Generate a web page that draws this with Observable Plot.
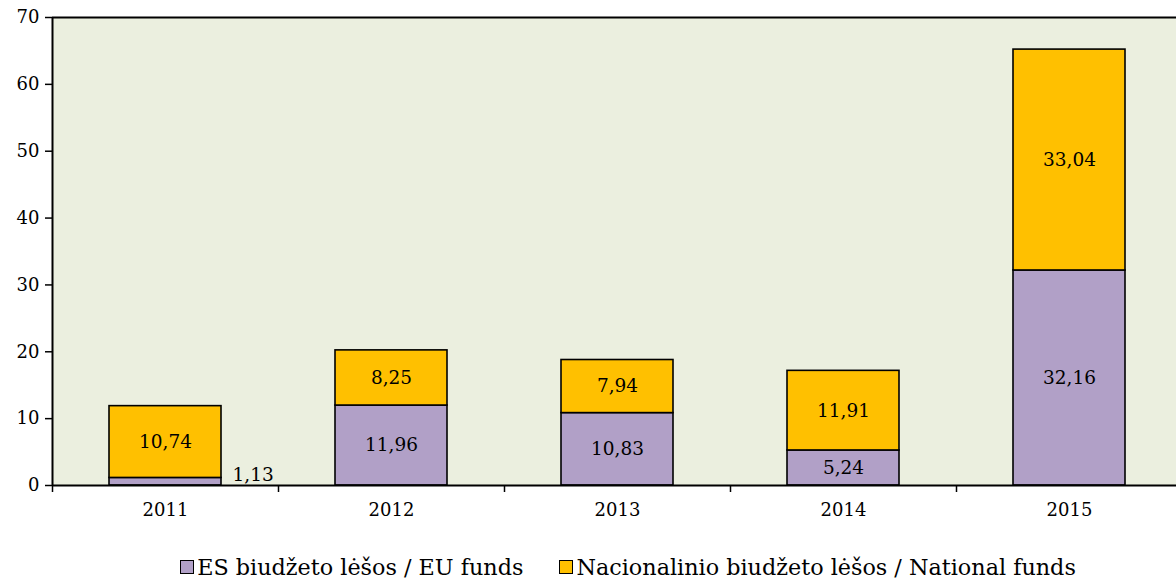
<!DOCTYPE html>
<html>
<head>
<meta charset="utf-8">
<script src="https://cdn.jsdelivr.net/npm/d3@7"></script>
<script src="https://cdn.jsdelivr.net/npm/@observablehq/plot@0.6"></script>
<style>
  html, body { margin: 0; padding: 0; background: white; overflow: hidden; }
  #legend { display: flex; justify-content: center; align-items: center; gap: 36px;
    font-family: "DejaVu Serif", serif; font-size: 22.3px; color: #000; height: 40px; margin-top: 7px; margin-left: 80px; }
  #legend .item { display: flex; align-items: center; }
  #legend .sw { width: 12px; height: 12px; border: 1.5px solid #000; margin-right: 3px; }
</style>
</head>
<body>
<div id="chart"></div>
<div id="legend"></div>
<script>
const years = ["2011", "2012", "2013", "2014", "2015"];
const euFunds = [1.13, 11.96, 10.83, 5.24, 32.16];
const nationalFunds = [10.74, 8.25, 7.94, 11.91, 33.04];
const seriesNames = ["ES biudžeto lėšos / EU funds", "Nacionalinio biudžeto lėšos / National funds"];
const seriesColors = ["#B1A0C7", "#FFC000"];
const yTicks = [0, 10, 20, 30, 40, 50, 60, 70];

const fmt = v => v.toFixed(2).replace(".", ",");

const rows = [];
years.forEach((y, i) => {
  rows.push({year: y, series: seriesNames[0], y1: 0, y2: euFunds[i], value: euFunds[i]});
  rows.push({year: y, series: seriesNames[1], y1: euFunds[i], y2: euFunds[i] + nationalFunds[i], value: nationalFunds[i]});
});
rows.forEach(r => r.mid = (r.y1 + r.y2) / 2);
const inside = rows.filter(r => r.value >= 3);
const outside = rows.filter(r => r.value < 3);

const W = 1176, ML = 52, MR = -6;
const step = (W - ML - MR) / years.length;

const chart = Plot.plot({
  width: W,
  height: 540,
  marginLeft: ML,
  marginRight: MR,
  marginTop: 17,
  marginBottom: 55,
  style: {fontFamily: "DejaVu Serif, serif", fontSize: "17.5px", color: "#000", background: "white", overflow: "hidden"},
  x: {type: "band", domain: years, padding: 0},
  y: {domain: [0, 70]},
  color: {domain: seriesNames, range: seriesColors},
  marks: [
    Plot.frame({fill: "#EBEFDF"}),
    Plot.barY(rows, {x: "year", y1: "y1", y2: "y2", fill: "series", stroke: "#000", strokeWidth: 1.6, insetLeft: 57, insetRight: 57}),
    Plot.text(inside, {x: "year", y: "mid", text: d => fmt(d.value), fontSize: 18.5, fill: "#000"}),
    Plot.text(outside, {x: "year", y: "mid", text: d => fmt(d.value), fontSize: 18.5, fill: "#000", textAnchor: "start", dx: 67, dy: -7}),
    Plot.ruleY([0], {stroke: "#000", strokeWidth: 2}),
    Plot.ruleY([70], {stroke: "#000", strokeWidth: 2}),
    Plot.axisY({ticks: yTicks, tickSize: 7, tickPadding: 6, label: null, fontSize: 18, strokeWidth: 1.5}),
    Plot.ruleX([years[0]], {dx: -step / 2, stroke: "#000", strokeWidth: 2}),
    Plot.axisX({tickSize: 7, tickFormat: () => "", dx: -step / 2, label: null, strokeWidth: 1.5}),
    Plot.axisX({tickSize: 0, tickPadding: 18, label: null, fontSize: 18})
  ]
});
document.getElementById("chart").appendChild(chart);

const legend = document.getElementById("legend");
seriesNames.forEach((n, i) => {
  const item = document.createElement("div");
  item.className = "item";
  const sw = document.createElement("div");
  sw.className = "sw";
  sw.style.background = seriesColors[i];
  const t = document.createElement("span");
  t.textContent = n;
  item.appendChild(sw);
  item.appendChild(t);
  legend.appendChild(item);
});
</script>
</body>
</html>
